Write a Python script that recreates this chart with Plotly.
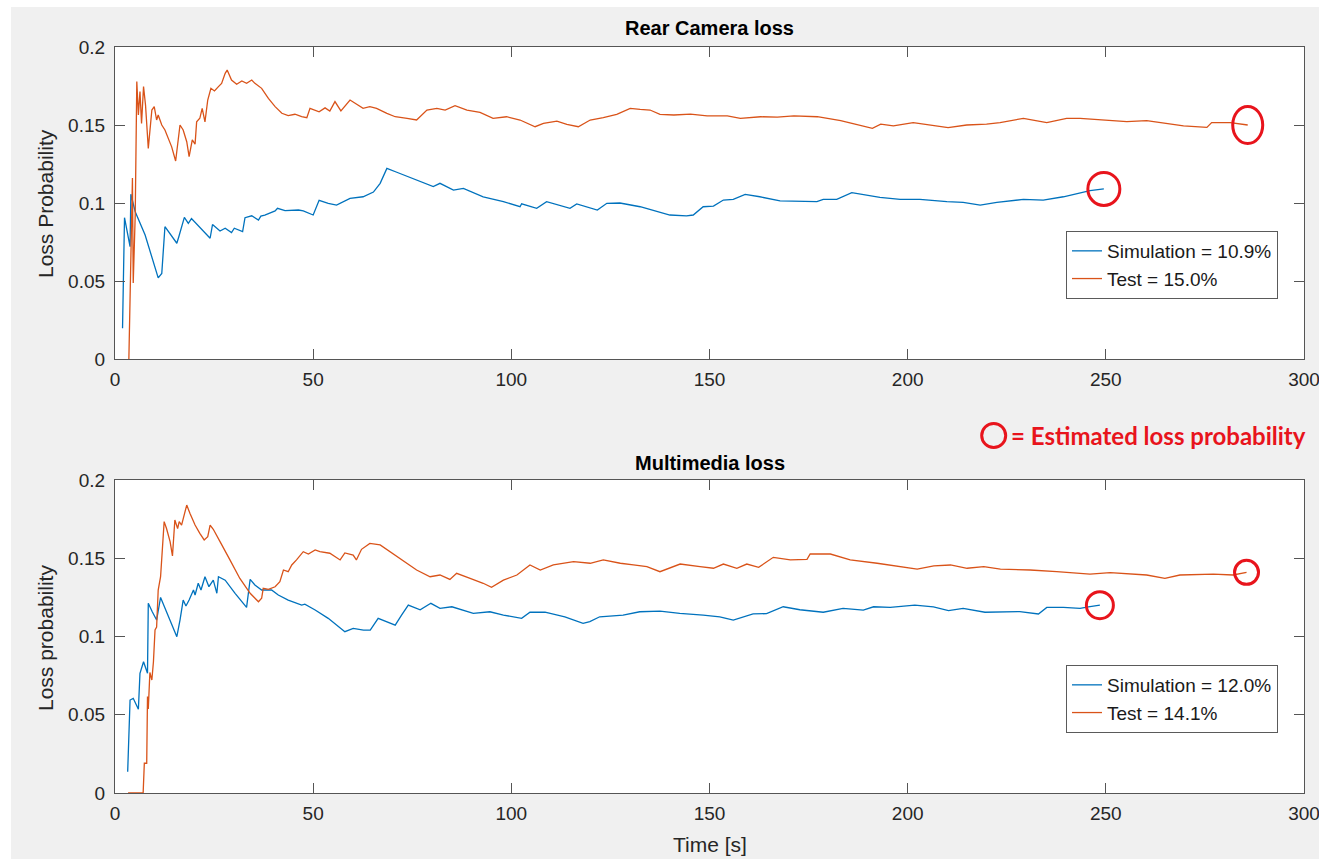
import plotly.graph_objects as go

# ---- Rear Camera: running loss probability vs. time ----
rear_sim_t = [
    1.9, 2.4, 3.8, 4.0, 5.1, 7.6, 10.9, 11.8, 12.6, 15.6,
    16.1, 17.5, 18.5, 19.3, 24.0, 24.6, 26.5, 27.8, 29.4, 30.1,
    32.2, 32.8, 34.5, 36.2, 36.8, 37.8, 40.4, 41.0, 42.9, 46.3,
    47.5, 50.0, 51.5, 53.8, 55.9, 59.3, 62.6, 65.2, 66.9, 68.6,
    71.1, 76.1, 80.3, 82.0, 85.4, 87.9, 92.9, 98.0, 102.2, 102.6,
    106.4, 108.9, 113.1, 114.8, 116.5, 121.7, 124.1, 127.4, 132.5, 136.7,
    140.0, 144.2, 145.9, 148.4, 151.0, 153.5, 156.0, 159.0, 162.7, 167.8,
    172.8, 177.1, 178.7, 182.1, 185.9, 189.7, 193.0, 198.1, 203.1, 209.9,
    214.0, 218.3, 222.5, 229.2, 234.2, 239.3, 242.7, 246.0, 249.5,
]
rear_sim_p = [
    0.0197, 0.0906, 0.0720, 0.1056, 0.0944, 0.0795, 0.0520, 0.0548, 0.0848, 0.0742,
    0.0784, 0.0908, 0.0870, 0.0900, 0.0774, 0.0862, 0.0820, 0.0838, 0.0810, 0.0838,
    0.0816, 0.0906, 0.0918, 0.0891, 0.0916, 0.0923, 0.0949, 0.0966, 0.0951, 0.0955,
    0.0949, 0.0923, 0.1017, 0.0998, 0.0987, 0.1030, 0.1040, 0.1070, 0.1126, 0.1222,
    0.1197, 0.1147, 0.1105, 0.1126, 0.1083, 0.1094, 0.1040, 0.1009, 0.0976, 0.0995,
    0.0966, 0.1009, 0.0976, 0.0966, 0.0994, 0.0955, 0.0998, 0.1000, 0.0976, 0.0944,
    0.0923, 0.0917, 0.0923, 0.0976, 0.0980, 0.1019, 0.1023, 0.1055, 0.1040, 0.1013,
    0.1009, 0.1009, 0.1023, 0.1023, 0.1066, 0.1051, 0.1036, 0.1023, 0.1023, 0.1009,
    0.1004, 0.0987, 0.1004, 0.1023, 0.1019, 0.1040, 0.1062, 0.1079, 0.1090,
]

rear_test_t = [
    3.5, 3.8, 4.4, 4.6, 5.1, 5.5, 5.9, 6.3, 6.7, 7.2,
    7.7, 8.4, 9.3, 9.9, 10.5, 10.9, 11.8, 12.6, 13.5, 14.3,
    15.3, 16.4, 17.2, 18.1, 18.7, 19.5, 20.2, 20.6, 21.4, 22.0,
    22.7, 23.4, 24.2, 25.1, 26.1, 26.9, 27.8, 28.3, 29.4, 30.7,
    32.0, 33.2, 34.5, 35.3, 37.0, 38.7, 40.4, 42.1, 43.7, 45.4,
    47.1, 48.4, 49.2, 50.5, 51.5, 53.0, 54.2, 55.5, 57.0, 59.3,
    62.6, 64.3, 66.0, 68.6, 70.7, 73.7, 76.1, 78.7, 81.2, 83.3,
    85.8, 88.8, 92.1, 95.4, 98.8, 102.2, 106.0, 108.1, 111.5, 114.0,
    116.9, 119.9, 123.2, 126.6, 130.0, 132.5, 135.0, 137.5, 141.0, 145.2,
    149.4, 154.5, 157.8, 162.9, 167.1, 171.3, 177.2, 183.1, 188.1, 191.1,
    193.2, 196.4, 201.4, 205.6, 210.2, 214.9, 219.9, 223.3, 229.2, 235.1,
    240.1, 243.5, 248.5, 255.3, 260.3, 265.4, 269.6, 275.5, 276.7, 281.4,
    285.8,
]
rear_test_p = [
    0.0000, 0.0450, 0.1160, 0.0487, 0.0920, 0.1778, 0.1564, 0.1714, 0.1510, 0.1746,
    0.1628, 0.1350, 0.1596, 0.1618, 0.1532, 0.1564, 0.1500, 0.1468, 0.1414, 0.1360,
    0.1269, 0.1500, 0.1468, 0.1393, 0.1297, 0.1404, 0.1377, 0.1520, 0.1543, 0.1607,
    0.1520, 0.1660, 0.1735, 0.1718, 0.1746, 0.1767, 0.1831, 0.1852, 0.1788, 0.1761,
    0.1782, 0.1767, 0.1788, 0.1767, 0.1735, 0.1670, 0.1618, 0.1575, 0.1560, 0.1569,
    0.1553, 0.1547, 0.1607, 0.1596, 0.1585, 0.1610, 0.1590, 0.1650, 0.1590, 0.1660,
    0.1607, 0.1618, 0.1607, 0.1575, 0.1553, 0.1543, 0.1532, 0.1596, 0.1607, 0.1596,
    0.1624, 0.1596, 0.1581, 0.1543, 0.1553, 0.1532, 0.1489, 0.1510, 0.1525, 0.1504,
    0.1489, 0.1532, 0.1547, 0.1568, 0.1607, 0.1600, 0.1596, 0.1568, 0.1564, 0.1570,
    0.1558, 0.1558, 0.1543, 0.1553, 0.1550, 0.1558, 0.1553, 0.1528, 0.1500, 0.1479,
    0.1506, 0.1494, 0.1515, 0.1500, 0.1483, 0.1500, 0.1506, 0.1515, 0.1543, 0.1515,
    0.1543, 0.1543, 0.1532, 0.1521, 0.1528, 0.1510, 0.1494, 0.1485, 0.1515, 0.1515,
    0.1500,
]

# ---- Multimedia: running loss probability vs. time ----
mm_sim_t = [
    3.2, 3.5, 3.8, 4.6, 5.9, 6.3, 7.2, 8.2, 8.4, 9.4,
    10.5, 11.5, 13.5, 15.6, 16.4, 17.2, 17.9, 18.7, 19.8, 20.2,
    21.0, 21.7, 22.7, 23.7, 24.8, 25.7, 26.1, 27.8, 30.3, 33.2,
    34.1, 35.3, 37.0, 39.5, 41.2, 43.7, 47.1, 47.9, 50.5, 53.8,
    58.0, 60.1, 62.7, 64.4, 66.4, 68.5, 70.7, 72.3, 74.0, 77.0,
    79.7, 82.0, 85.0, 90.4, 94.6, 98.0, 102.6, 104.7, 108.5, 113.5,
    118.1, 119.8, 122.3, 128.2, 132.4, 137.5, 142.5, 148.4, 152.6, 156.0,
    161.0, 164.4, 168.6, 172.8, 178.7, 183.7, 188.8, 191.4, 195.6, 201.8,
    206.5, 210.3, 214.0, 219.5, 224.9, 228.3, 233.0, 235.1, 239.3, 243.5,
    245.6, 248.5,
]
mm_sim_p = [
    0.0136, 0.0328, 0.0594, 0.0605, 0.0535, 0.0765, 0.0839, 0.0765, 0.1212, 0.1158,
    0.1105, 0.1250, 0.1126, 0.0999, 0.1105, 0.1233, 0.1195, 0.1233, 0.1297, 0.1265,
    0.1340, 0.1297, 0.1382, 0.1318, 0.1360, 0.1276, 0.1382, 0.1360, 0.1276, 0.1186,
    0.1365, 0.1329, 0.1297, 0.1297, 0.1265, 0.1233, 0.1201, 0.1207, 0.1169, 0.1116,
    0.1031, 0.1052, 0.1041, 0.1041, 0.1116, 0.1094, 0.1073, 0.1137, 0.1201, 0.1170,
    0.1212, 0.1180, 0.1190, 0.1148, 0.1158, 0.1137, 0.1116, 0.1155, 0.1155, 0.1126,
    0.1084, 0.1095, 0.1126, 0.1137, 0.1158, 0.1162, 0.1148, 0.1137, 0.1126, 0.1105,
    0.1144, 0.1146, 0.1190, 0.1171, 0.1155, 0.1180, 0.1169, 0.1190, 0.1186, 0.1201,
    0.1190, 0.1165, 0.1180, 0.1155, 0.1159, 0.1159, 0.1144, 0.1186, 0.1186, 0.1180,
    0.1190, 0.1200,
]

mm_test_t = [
    3.3, 7.1, 7.4, 8.0, 8.2, 8.4, 8.8, 9.3, 9.7, 10.1,
    10.5, 10.9, 11.5, 11.8, 12.4, 13.0, 13.9, 14.5, 15.1, 15.8,
    16.2, 16.8, 17.4, 18.1, 18.9, 20.2, 21.4, 22.5, 23.4, 24.0,
    24.8, 25.5, 26.5, 29.0, 31.5, 34.1, 36.2, 37.0, 37.4, 38.7,
    40.4, 41.6, 42.5, 43.7, 44.6, 45.8, 47.5, 48.8, 50.5, 51.7,
    54.2, 56.8, 58.0, 60.1, 60.9, 62.2, 64.3, 66.9, 69.4, 72.8,
    76.1, 79.5, 82.0, 84.5, 86.2, 89.6, 92.9, 95.0, 98.0, 101.4,
    104.7, 107.3, 110.6, 115.7, 119.9, 123.2, 127.5, 130.8, 134.2, 137.5,
    142.6, 147.6, 151.0, 153.5, 156.9, 159.4, 162.4, 166.1, 170.4, 174.6,
    175.4, 180.5, 185.5, 192.3, 197.4, 202.4, 206.6, 210.8, 215.0, 219.2,
    223.4, 230.9, 237.6, 246.0, 251.1, 260.3, 264.9, 268.7, 277.1, 282.1,
    285.5,
]
mm_test_p = [
    0.0000, 0.0000, 0.0190, 0.0190, 0.0616, 0.0537, 0.0770, 0.0722, 0.0839, 0.1042,
    0.1060, 0.1297, 0.1382, 0.1521, 0.1734, 0.1690, 0.1606, 0.1515, 0.1744, 0.1690,
    0.1734, 0.1712, 0.1776, 0.1840, 0.1787, 0.1712, 0.1659, 0.1617, 0.1638, 0.1712,
    0.1685, 0.1649, 0.1606, 0.1490, 0.1371, 0.1276, 0.1222, 0.1244, 0.1308, 0.1301,
    0.1318, 0.1350, 0.1425, 0.1414, 0.1457, 0.1490, 0.1542, 0.1527, 0.1553, 0.1542,
    0.1532, 0.1489, 0.1534, 0.1520, 0.1489, 0.1557, 0.1595, 0.1585, 0.1542, 0.1478,
    0.1425, 0.1382, 0.1393, 0.1365, 0.1404, 0.1371, 0.1340, 0.1314, 0.1360, 0.1393,
    0.1457, 0.1425, 0.1457, 0.1478, 0.1468, 0.1489, 0.1468, 0.1457, 0.1446, 0.1414,
    0.1463, 0.1446, 0.1436, 0.1463, 0.1436, 0.1463, 0.1442, 0.1506, 0.1489, 0.1493,
    0.1527, 0.1527, 0.1489, 0.1468, 0.1451, 0.1430, 0.1451, 0.1457, 0.1436, 0.1446,
    0.1430, 0.1425, 0.1414, 0.1399, 0.1408, 0.1393, 0.1372, 0.1393, 0.1399, 0.1393,
    0.1410,
]

x_ticks = [0, 50, 100, 150, 200, 250, 300]
y_ticks = [0, 0.05, 0.1, 0.15, 0.2]

SIM_COLOR = "#0072BD"
TEST_COLOR = "#D95319"
MARK_RED = "#E8141C"
FONT = "Liberation Sans, Arial, sans-serif"
AXIS_GREY = "#555555"

W, H = 1319, 859


def px(x):
    """pixel column -> paper fraction"""
    return x / W


def py(y):
    """pixel row (from top) -> paper fraction"""
    return 1 - y / H


fig = go.Figure()

panels = [
    ("x", "y", "legend", rear_sim_t, rear_sim_p, rear_test_t, rear_test_p),
    ("x2", "y2", "legend2", mm_sim_t, mm_sim_p, mm_test_t, mm_test_p),
]

for xa, ya, lg, st, sp, tt, tp in panels:
    fig.add_trace(go.Scatter(
        x=st, y=sp, mode="lines", xaxis=xa, yaxis=ya, legend=lg,
        name=f"Simulation = {sp[-1] * 100:.1f}%",
        line=dict(color=SIM_COLOR, width=1.3),
    ))
    fig.add_trace(go.Scatter(
        x=tt, y=tp, mode="lines", xaxis=xa, yaxis=ya, legend=lg,
        name=f"Test = {tp[-1] * 100:.1f}%",
        line=dict(color=TEST_COLOR, width=1.3),
    ))

axis_common = dict(
    showline=True, linecolor=AXIS_GREY, linewidth=1.2, mirror="allticks",
    ticks="inside", ticklen=10, tickcolor=AXIS_GREY, tickwidth=1.2,
    showgrid=False, zeroline=False, ticklabeloverflow="allow", automargin=False,
    tickfont=dict(family=FONT, size=19, color="#262626"),
)

x_dom = [px(115), px(1304)]
fig.update_layout(
    xaxis=dict(domain=x_dom, anchor="y", range=[0, 300], tickvals=x_ticks,
               ticklabelstandoff=3, **axis_common),
    yaxis=dict(domain=[py(359), py(47)], anchor="x", range=[0, 0.2], tickvals=y_ticks,
               ticklabelstandoff=5, **axis_common),
    xaxis2=dict(domain=x_dom, anchor="y2", range=[0, 300], tickvals=x_ticks,
                ticklabelstandoff=3, **axis_common),
    yaxis2=dict(domain=[py(793), py(480)], anchor="x2", range=[0, 0.2], tickvals=y_ticks,
                ticklabelstandoff=5, **axis_common),
)

legend_style = dict(
    bgcolor="white", bordercolor="#5a5a5a", borderwidth=1,
    font=dict(family=FONT, size=19, color="#1a1a1a"),
    xanchor="right", yanchor="top", tracegroupgap=0,
)
fig.update_layout(
    legend=dict(x=px(1278), y=py(231), **legend_style),
    legend2=dict(x=px(1278), y=py(665), **legend_style),
)

shapes = [
    # white strips along the top and left edges
    dict(type="rect", xref="paper", yref="paper", x0=0, x1=px(11), y0=0, y1=1,
         fillcolor="white", line=dict(width=0), layer="below"),
    dict(type="rect", xref="paper", yref="paper", x0=0, x1=1, y0=py(7), y1=1,
         fillcolor="white", line=dict(width=0), layer="below"),
]

# hand-drawn style rings around each series' final estimate
rings = [
    ("x", "y", rear_test_t, rear_test_p, 15, 18.5),
    ("x", "y", rear_sim_t, rear_sim_p, 16, 16.5),
    ("x2", "y2", mm_test_t, mm_test_p, 12, 12),
    ("x2", "y2", mm_sim_t, mm_sim_p, 13.5, 13.5),
]
for xr, yr, t, p, rx, ry in rings:
    shapes.append(dict(
        type="circle", xref=xr, yref=yr, xsizemode="pixel", ysizemode="pixel",
        xanchor=t[-1], yanchor=p[-1], x0=-rx, x1=rx, y0=-ry, y1=ry,
        line=dict(color=MARK_RED, width=3),
    ))

# key ring for the annotation
shapes.append(dict(
    type="circle", xref="paper", yref="paper",
    x0=px(993.7 - 12), x1=px(993.7 + 12), y0=py(435.5 + 12), y1=py(435.5 - 12),
    line=dict(color=MARK_RED, width=3),
))

annotations = [
    dict(text="<b>Rear Camera loss</b>", x=px(709.5), y=py(28), xref="paper", yref="paper",
         showarrow=False, xanchor="center", yanchor="middle",
         font=dict(family=FONT, size=20, color="#000000")),
    dict(text="<b>Multimedia loss</b>", x=px(709.5), y=py(463), xref="paper", yref="paper",
         showarrow=False, xanchor="center", yanchor="middle",
         font=dict(family=FONT, size=20, color="#000000")),
    dict(text="Loss Probability", x=px(45), y=py(204), xref="paper", yref="paper",
         showarrow=False, textangle=-90, xanchor="center", yanchor="middle",
         font=dict(family=FONT, size=21, color="#262626")),
    dict(text="Loss probability", x=px(45), y=py(638), xref="paper", yref="paper",
         showarrow=False, textangle=-90, xanchor="center", yanchor="middle",
         font=dict(family=FONT, size=21, color="#262626")),
    dict(text="Time [s]", x=px(710), y=py(844), xref="paper", yref="paper",
         showarrow=False, xanchor="center", yanchor="middle",
         font=dict(family=FONT, size=21, color="#262626")),
    dict(text="<b>= Estimated loss probability</b>", x=px(1009), y=py(435), xref="paper", yref="paper",
         showarrow=False, xanchor="left", yanchor="middle",
         font=dict(family="Lato, Liberation Sans, sans-serif", size=24, color=MARK_RED)),
]

fig.update_layout(
    width=W, height=H,
    margin=dict(l=0, r=0, t=0, b=0, pad=0, autoexpand=False),
    paper_bgcolor="#f0f0f0", plot_bgcolor="white",
    shapes=shapes, annotations=annotations,
    font=dict(family=FONT),
)

fig.write_html("out.html")
